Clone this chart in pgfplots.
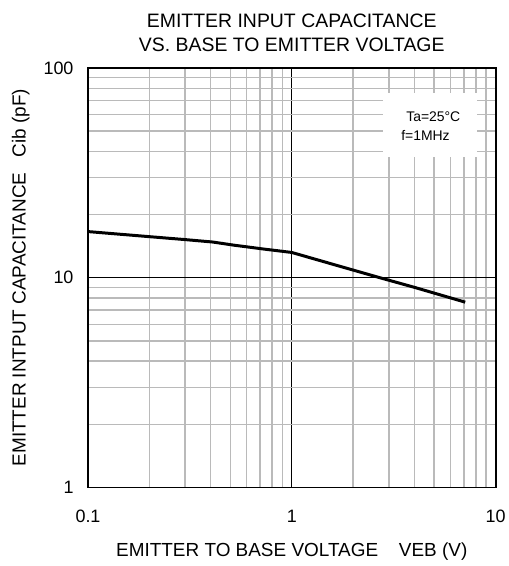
\documentclass[border=0pt]{standalone}
\usepackage{pgfplots}
\pgfplotsset{compat=1.18}
\usepackage{fontspec}
\setmainfont{Liberation Sans}
\begin{document}
\begin{tikzpicture}[x=1bp,y=1bp]
\useasboundingbox (-88,-78.5) rectangle (421,487.5);
\begin{axis}[
  scale only axis,
  width=407.5bp, height=419.5bp,
  xmode=log, ymode=log,
  xmin=0.1, xmax=10, ymin=1, ymax=100,
  xtick={0.1,1,10}, ytick={1,10,100},
  xticklabels={0.1,1,10}, yticklabels={1,10,100},
  minor xtick={0.2,0.3,0.4,0.5,0.6,0.7,0.8,0.9,2,3,4,5,6,7,8,9},
  minor ytick={2,3,4,5,6,7,8,9,20,30,40,50,60,70,80,90},
  grid=both,
  minor grid style={draw=black!27, line width=1.5pt},
  major grid style={draw=black, line width=1.4pt},
  major tick length=0pt, minor tick length=0pt,
  axis line style={line width=2pt},
  /pgf/number format/assume math mode=true,
  ticklabel style={font=\fontsize{18}{21}\selectfont},
  xticklabel style={yshift=-19bp},
  yticklabel style={xshift=-11bp},
  xlabel={EMITTER TO BASE VOLTAGE\hspace{1.1em}VEB (V)},
  ylabel={EMITTER INTPUT CAPACITANCE\hspace{0.8em}Cib (pF)},
  xlabel style={font=\fontsize{19}{21}\selectfont, at={(axis description cs:0.5,0)}, anchor=north, yshift=-52bp},
  ylabel style={font=\fontsize{19}{21}\selectfont, at={(axis description cs:0,0.5)}, anchor=south, yshift=55bp},
  title={EMITTER INPUT CAPACITANCE\\VS. BASE TO EMITTER VOLTAGE},
  title style={font=\fontsize{19.5}{23.5}\selectfont, align=center, at={(axis description cs:0.5,1)}, anchor=south, yshift=7bp},
]
\fill[white] (axis cs:2.8,37.5) rectangle (axis cs:8.1,75.6);
\node[anchor=west, inner sep=0pt, font=\fontsize{14}{16}\selectfont] at (axis cs:3.64,58.5) {Ta=25\textdegree C};
\node[anchor=west, inner sep=0pt, font=\fontsize{14}{16}\selectfont] at (axis cs:3.44,47.5) {f=1MHz};
\draw[line width=2pt] (rel axis cs:0,0) rectangle (rel axis cs:1,1);
\addplot[black, line width=3pt, line join=round] coordinates {
 (0.1,16.6) (0.2,15.7) (0.3,15.2) (0.41,14.8) (0.52,14.3) (0.73,13.7)
 (1,13.2) (1.86,11.1) (2.71,10.0) (4,9.0) (7.1,7.65)
};
\end{axis}
\end{tikzpicture}
\end{document}
